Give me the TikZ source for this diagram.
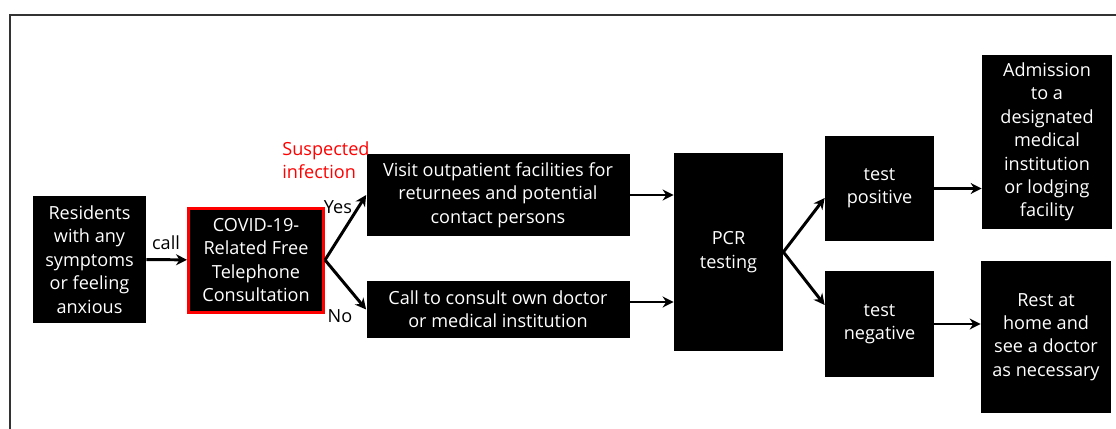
\documentclass[tikz,border=0pt]{standalone}
\usepackage{fontspec}
\setmainfont{Open Sans}
\usepackage{tikz}
\usetikzlibrary{arrows.meta}
\usetikzlibrary{positioning}

\begin{document}
\begin{tikzpicture}[x=0.02cm,y=-0.02cm]
\useasboundingbox (0,0) rectangle (1116,429);
\draw[black!80,line width=0.7pt] (10,429) -- (10,15) -- (1116,15);

\tikzset{>={Stealth[length=2.2mm,width=2.2mm]}}
\def\px{0.02cm}
\tikzstyle{block} = [
	fill=black, text=white, align=center, inner sep=0pt,
	font=\fontsize{10.3}{13.3}\selectfont ];
\tikzstyle{flow} = [->, line width=1.7pt];
\tikzstyle{lbl} = [inner sep=0pt, font=\fontsize{10.3}{13.3}\selectfont];

\node[block,minimum width=113*\px,minimum height=127*\px] (res) at (89.5,259.5)
	{Residents\\with any\\symptoms\\or feeling\\anxious};
\node[block,draw=red,line width=3*\px,minimum width=135*\px,minimum height=104*\px] (cons) at (256,260)
	{COVID-19-\\Related Free\\Telephone\\Consultation};
\node[block,minimum width=263*\px,minimum height=82*\px] (visit) at (498,195)
	{Visit outpatient facilities for\\returnees and potential\\contact persons};
\node[block,minimum width=263*\px,minimum height=57*\px] (own) at (498,309.5)
	{Call to consult own doctor\\or medical institution};
\node[block,minimum width=109*\px,minimum height=198*\px] (pcr) at (728.5,252)
	{PCR\\testing};
\node[block,minimum width=109*\px,minimum height=105*\px] (pos) at (879.5,188.5)
	{test\\positive};
\node[block,minimum width=109*\px,minimum height=106*\px] (neg) at (879.5,324)
	{test\\negative};
\node[block,minimum width=130*\px,minimum height=174*\px] (adm) at (1047,142)
	{Admission\\to a\\designated\\medical\\institution\\or lodging\\facility};
\node[block,minimum width=130*\px,minimum height=152*\px] (rest) at (1046,337)
	{Rest at\\home and\\see a doctor\\as necessary};

\node[lbl] (call) at (166,243) {call};
\node[lbl] (yes) at (338,207) {Yes};
\node[lbl] (no) at (340,316) {No};
\node[lbl,text=red,align=left,anchor=west] (susp) at (282,160) {Suspected\\infection};

\draw[flow] (res) -- (cons);
\draw[flow] (cons.east) -- (visit.west);
\draw[flow] (cons.east) -- (own.west);
\draw[flow] (visit.east) -- (visit.east -| pcr.west);
\draw[flow] ([yshift=7.5*\px]own.east) coordinate (o1) -- (o1 -| pcr.west);
\draw[flow] (pcr.east) -- ([yshift=-9.5*\px]pos.west);
\draw[flow] (pcr.east) -- ([yshift=19*\px]neg.west);
\draw[flow] (pos.east) -- (pos.east -| adm.west);
\draw[flow] (neg.east) -- (neg.east -| rest.west);

%\draw[flow] (pcr.south) -- (own.south);
\end{tikzpicture}
\end{document}
